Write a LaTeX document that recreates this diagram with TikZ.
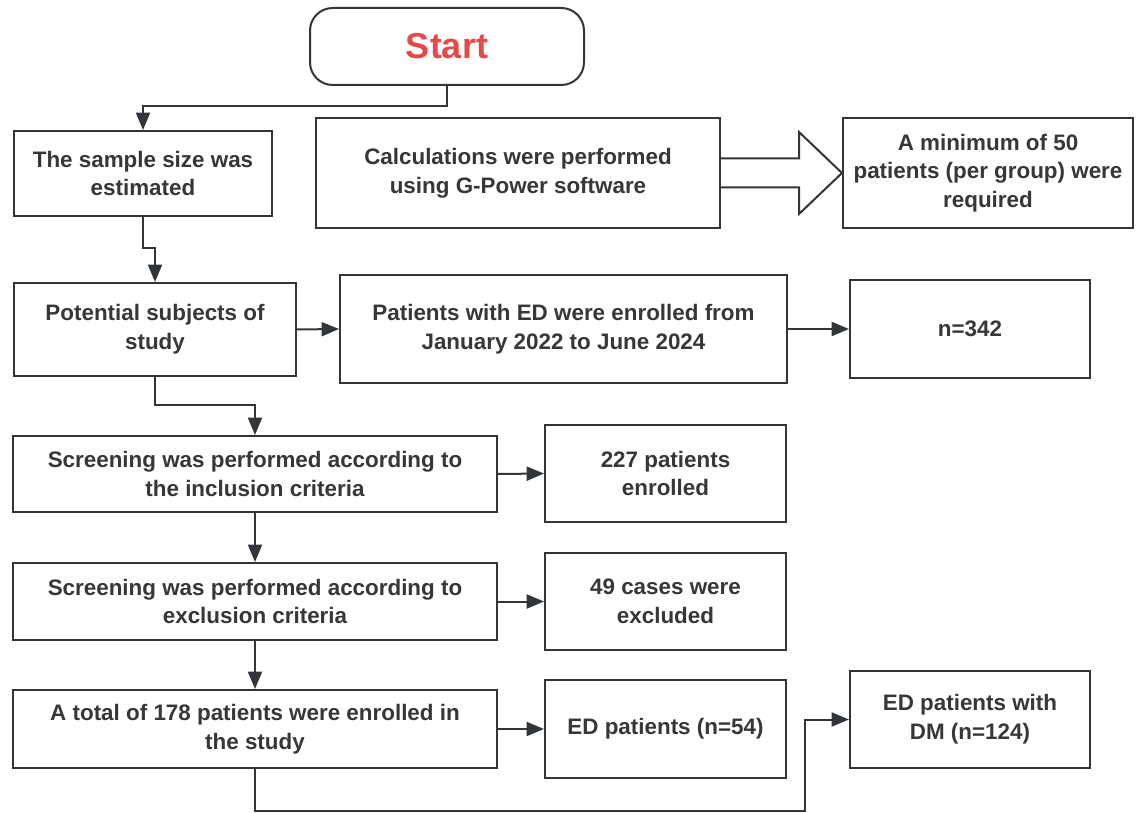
\documentclass[tikz,border=0pt]{standalone}
\usepackage{fontspec}
\setmainfont{Liberation Sans}
\usetikzlibrary{arrows.meta,calc}
\definecolor{ln}{RGB}{50,54,58}
\definecolor{tx}{RGB}{55,55,55}
\definecolor{startred}{RGB}{228,74,74}
\begin{document}
\begin{tikzpicture}[x=0.75pt,y=-0.75pt,
 box/.style 2 args={draw=ln, line width=1.5pt, fill=white, minimum width=#1*0.75pt, minimum height=#2*0.75pt, inner sep=0pt, align=center, text=tx, font=\fontsize{16.8}{21.5}\selectfont\bfseries},
 arr/.style={draw=ln, line width=1.5pt, -{Triangle[length=13pt,width=10.5pt]}},
 plain/.style={draw=ln, line width=1.5pt}]
\useasboundingbox (0,0) rectangle (1140,813);
\node[box={274}{77}, rounded corners=17pt, text=startred, font=\fontsize{27}{30}\selectfont\bfseries] (start) at (447,46.5) {Start};
\node[box={258}{85}] (b1) at (143,173.5) {The sample size was\\estimated};
\node[box={404}{110}] (b2) at (518,173) {Calculations were performed\\using G-Power software};
\node[box={290}{110}] (b3) at (988,173) {A minimum of 50\\patients (per group) were\\required};
\node[box={282}{93}] (b4) at (155,329.5) {Potential subjects of\\study};
\node[box={447}{108}] (b5) at (563.5,329) {Patients with ED were enrolled from\\January 2022 to June 2024};
\node[box={240}{98}] (b6) at (970,329) {n=342};
\node[box={484}{76}] (b7) at (255,474) {Screening was performed according to\\the inclusion criteria};
\node[box={241}{97}] (b8) at (665.5,473.5) {227 patients\\enrolled};
\node[box={484}{77}] (b9) at (255,601.5) {Screening was performed according to\\exclusion criteria};
\node[box={241}{97}] (b10) at (665.5,601.5) {49 cases were\\excluded};
\node[box={484}{78}] (b11) at (255,729) {A total of 178 patients were enrolled in\\the study};
\node[box={241}{98}] (b12) at (665.5,729) {ED patients (n=54)};
\node[box={240}{97}] (b13) at (970,719.5) {ED patients with\\DM (n=124)};
\coordinate (c1) at (447,106);
\coordinate (c2) at (143,248);
\coordinate (c3) at (155,405);
\coordinate (c4) at (255,811);
\coordinate (c5) at (805,811);
\draw[arr] (start.south) -- (c1) -| (b1.north);
\draw[arr] (b1.south) -- (c2) -| (b4.north);
\draw[arr] (b4.south) -- (c3) -| (b7.north);
\draw[arr] (b4.east) -- (b5.west);
\draw[arr] (b5.east) -- (b6.west);
\draw[arr] (b7.east) -- (b8.west);
\draw[arr] (b7.south) -- (b9.north);
\draw[arr] (b9.east) -- (b10.west);
\draw[arr] (b9.south) -- (b11.north);
\draw[arr] (b11.east) -- (b12.west);
\draw[arr] (b11.south) -- (c4) -- (c5) |- (b13.west);
\draw[plain, fill=white, line join=miter] ($(b2.east)+(0,-14.5)$) -- ($(b3.west)+(-43,-14.5)$) -- ($(b3.west)+(-43,-41)$) -- (b3.west) -- ($(b3.west)+(-43,41)$) -- ($(b3.west)+(-43,14.5)$) -- ($(b2.east)+(0,14.5)$);
\end{tikzpicture}
\end{document}
